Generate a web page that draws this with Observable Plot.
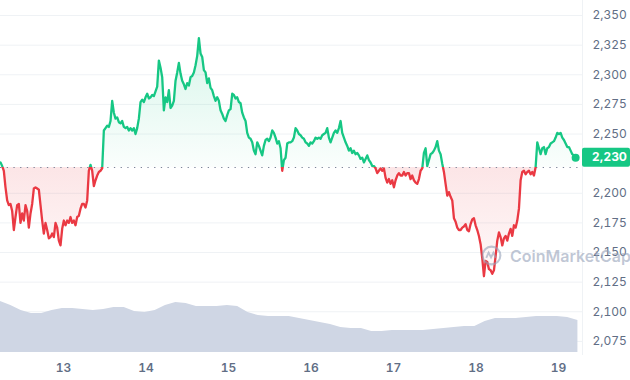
<!DOCTYPE html>
<html><head><meta charset="utf-8">
<script src="https://cdn.jsdelivr.net/npm/d3@7"></script>
<script src="https://cdn.jsdelivr.net/npm/@observablehq/plot@0.6"></script>
<style>
html,body{margin:0;padding:0;background:#fff;}
#chart{position:relative;width:630px;height:380px;overflow:hidden;font-family:Inter,"Noto Sans",sans-serif;}
#chart svg{display:block;}
.layer{position:absolute;left:0;top:0;width:630px;height:380px;}
.clipbox{position:absolute;left:0;width:630px;overflow:hidden;}
.clipbox > svg{position:absolute;left:0;}
#chart [aria-label^="x-axis"] text{font-weight:600;}
.wm{position:absolute;left:481px;top:245px;display:flex;align-items:center;gap:8px;color:rgba(150,162,185,0.6);font-size:16px;font-weight:600;pointer-events:none;white-space:nowrap;}
</style></head>
<body><div id="chart"></div>
<script>
// ---- data ----
const priceStart = "2023-12-12T05:40:00Z";
const priceEnd = "2023-12-19T05:00:00Z";
const prices = [
2226,2223,2219,2205,2194,2190,2191,2185,2169,2180,
2190,2191,2175,2183,2177,2190,2185,2171,2183,2191,
2204,2205,2204,2203,2190,2177,2166,2175,2169,2162,
2163,2166,2163,2175,2171,2160,2156,2170,2177,2173,
2177,2175,2180,2175,2177,2173,2180,2181,2187,2191,
2191,2188,2194,2219,2224,2219,2206,2211,2215,2218,
2219,2221,2253,2255,2257,2256,2261,2278,2268,2263,
2264,2260,2259,2261,2256,2255,2256,2253,2255,2253,
2255,2250,2255,2263,2277,2279,2277,2281,2284,2280,
2281,2283,2282,2286,2290,2312,2306,2298,2270,2281,
2277,2287,2272,2274,2278,2295,2302,2310,2301,2295,
2292,2288,2293,2291,2298,2299,2302,2308,2316,2331,
2318,2315,2304,2302,2293,2297,2289,2287,2282,2278,
2281,2278,2270,2267,2263,2261,2266,2270,2271,2284,
2283,2280,2281,2277,2276,2268,2264,2261,2251,2247,
2246,2243,2236,2233,2243,2240,2236,2232,2240,2245,
2246,2244,2247,2253,2251,2247,2242,2244,2238,2219,
2228,2230,2242,2243,2243,2244,2247,2255,2253,2250,
2249,2247,2246,2243,2242,2240,2243,2242,2244,2247,
2246,2247,2246,2249,2250,2251,2255,2247,2243,2247,
2251,2253,2251,2255,2261,2251,2247,2243,2240,2236,
2238,2234,2236,2233,2234,2232,2229,2230,2226,2229,
2232,2228,2226,2223,2223,2221,2217,2219,2221,2219,
2221,2213,2209,2212,2208,2211,2205,2211,2215,2217,
2215,2215,2218,2215,2217,2217,2212,2215,2211,2209,
2208,2212,2219,2221,2234,2238,2223,2228,2233,2234,
2236,2239,2244,2236,2233,2225,2218,2208,2198,2201,
2197,2194,2179,2176,2171,2169,2169,2171,2172,2174,
2169,2168,2174,2178,2179,2173,2169,2164,2157,2145,
2130,2143,2142,2136,2135,2132,2135,2147,2160,2167,
2163,2156,2162,2164,2160,2166,2170,2164,2173,2171,
2177,2187,2211,2218,2219,2216,2218,2219,2216,2218,
2215,2222,2243,2238,2233,2238,2239,2233,2238,2239,
2242,2243,2244,2247,2251,2250,2251,2247,2245,2242,
2239,2239,2236,2233,2232,2230
];
const baseline = 2221.7;
const volumeStart = "2023-12-12T05:40:00Z";
const volumeStepHours = 3;
const volumes = [
20.4,18.8,16.8,15.6,15.6,16.8,17.6,17.6,17.2,16.8,
17.2,18.0,18.0,16.4,16.0,16.8,18.8,20.0,19.6,18.4,
18.4,18.4,18.8,18.4,16.0,14.8,14.4,14.4,14.4,13.6,
12.8,12.0,11.2,10.0,9.6,9.6,8.4,8.4,8.8,8.8,
8.8,8.8,9.2,9.6,10.0,10.4,10.4,12.4,13.6,13.6,
13.6,14.0,14.4,14.4,14.4,14.0,12.8
];
const yTicks = [2075,2100,2125,2150,2175,2200,2250,2275,2300,2325,2350];
const xTickDays = ["2023-12-13","2023-12-14","2023-12-15","2023-12-16","2023-12-17","2023-12-18","2023-12-19"];
const xDomainStr = ["2023-12-12T05:40:00Z", "2023-12-19T07:00:00Z"];
const yDomain = [2063.1, 2362.7];
const volDomain = [0, 24];
const lastLabel = "2,230";
const watermark = "CoinMarketCap";

// ---- build ----
const UP = "#16c784", DOWN = "#ea3943";
const W = 630, H = 380, mR = 48, mB = 25;
const t0 = new Date(priceStart), t1 = new Date(priceEnd);
const data = prices.map((p, i) => ({t: new Date(+t0 + i * (t1 - t0) / (prices.length - 1)), p}));
const v0 = new Date(volumeStart);
const vol = volumes.map((v, i) => ({t: new Date(+v0 + i * volumeStepHours * 3600e3), v}));
const xDomain = xDomainStr.map(d => new Date(d));
const xTicks = xTickDays.map(d => new Date(d + "T00:00:00Z"));
const common = {width: W, height: H, marginLeft: 0, marginRight: mR, marginTop: 0, marginBottom: mB};
const bare = {
  ...common,
  style: {background: "transparent"},
  x: {type: "utc", domain: xDomain, axis: null},
  y: {domain: yDomain, axis: null}
};

const priceChart = Plot.plot({
  ...common,
  style: {background: "transparent", fontFamily: "Inter, 'Noto Sans', sans-serif", fontSize: "12px", color: "#616e85"},
  x: {type: "utc", domain: xDomain, ticks: xTicks, tickFormat: d3.utcFormat("%-d"), tickSize: 0, tickPadding: 8, label: null},
  y: {domain: yDomain, axis: "right", ticks: yTicks, tickFormat: d3.format(","), tickSize: 0, tickPadding: 10, label: null},
  marks: [
    Plot.ruleY(yTicks, {stroke: "#eff2f5", strokeWidth: 1}),
    Plot.ruleX([xDomain[1]], {stroke: "#eff2f5", strokeWidth: 1}),
    Plot.areaY(data, {x: "t", y1: () => baseline, y2: d => Math.max(d.p, baseline), fill: "url(#upFill)"}),
    Plot.areaY(data, {x: "t", y1: () => baseline, y2: d => Math.min(d.p, baseline), fill: "url(#downFill)"}),
    Plot.ruleY([baseline], {stroke: "#7d8599", strokeWidth: 1.1, strokeDasharray: "1.3,5.4"})
  ]
});

const downChart = Plot.plot({...bare, marks: [
  Plot.lineY(data, {x: "t", y: "p", stroke: DOWN, strokeWidth: 2.3})
]});
const upChart = Plot.plot({...bare, marks: [
  Plot.lineY(data, {x: "t", y: "p", stroke: UP, strokeWidth: 2.3})
]});
const dotChart = Plot.plot({...bare, marks: [
  Plot.dot([data[data.length - 1]], {x: "t", y: "p", r: 4, fill: UP})
]});

const volChart = Plot.plot({
  ...common,
  style: {background: "transparent"},
  x: {type: "utc", domain: xDomain, axis: null},
  y: {domain: volDomain, range: [352, 292], axis: null},
  marks: [Plot.areaY(vol, {x: "t", y: "v", fill: "#cfd6e4"})]
});

// y position helper from the plot's own y scale
const ys = priceChart.scale("y");
const yPx = (ys && ys.apply) ? (v => ys.apply(v)) : d3.scaleLinear(ys.domain, ys.range);
const xs = priceChart.scale("x");
const xRight = (xs && xs.apply) ? xs.apply(xDomain[1]) : W - mR;
const baseY = yPx(baseline);
const topY = yPx(d3.max(prices));
const botY = yPx(d3.min(prices));

const chart = document.getElementById("chart");
function layer(svgEl) {
  const d = document.createElement("div");
  d.className = "layer";
  d.appendChild(svgEl);
  chart.appendChild(d);
  return d;
}
function clipLayer(svgEl, top, height) {
  const d = document.createElement("div");
  d.className = "clipbox";
  d.style.top = top + "px";
  d.style.height = height + "px";
  svgEl.style.top = (-top) + "px";
  d.appendChild(svgEl);
  chart.appendChild(d);
}
layer(priceChart);
clipLayer(downChart, baseY, H - baseY);
clipLayer(upChart, 0, baseY);
layer(volChart);
layer(dotChart);

// gradients
const svg = d3.select(priceChart);
const defs = svg.append("defs");
const gu = defs.append("linearGradient").attr("id", "upFill").attr("gradientUnits", "userSpaceOnUse")
  .attr("x1", 0).attr("x2", 0).attr("y1", topY).attr("y2", baseY);
gu.append("stop").attr("offset", 0).attr("stop-color", UP).attr("stop-opacity", 0.17);
gu.append("stop").attr("offset", 1).attr("stop-color", UP).attr("stop-opacity", 0.02);
const gd = defs.append("linearGradient").attr("id", "downFill").attr("gradientUnits", "userSpaceOnUse")
  .attr("x1", 0).attr("x2", 0).attr("y1", baseY).attr("y2", botY);
gd.append("stop").attr("offset", 0).attr("stop-color", DOWN).attr("stop-opacity", 0.13);
gd.append("stop").attr("offset", 1).attr("stop-color", DOWN).attr("stop-opacity", 0.03);

// last price tag
const lastY = yPx(prices[prices.length - 1]);
const tsvg = d3.select(dotChart);
tsvg.append("rect").attr("x", xRight).attr("y", lastY - 9.5).attr("width", W - xRight).attr("height", 19)
  .attr("rx", 2).attr("fill", UP);
tsvg.append("text").attr("x", xRight + 10).attr("y", lastY).attr("dy", "0.35em")
  .attr("text-anchor", "start").attr("fill", "#fff").attr("font-weight", 700)
  .attr("font-size", 12).attr("font-family", "Inter, 'Noto Sans', sans-serif").text(lastLabel);

// watermark
const wm = document.createElement("div");
wm.className = "wm";
wm.innerHTML = '<svg width="21" height="21" viewBox="0 0 22 22"><circle cx="11" cy="11" r="9.3" fill="none" stroke="rgba(150,162,185,0.6)" stroke-width="2.2"/><path d="M5.5 13.5 L8 8 L10.5 13 L13 8 L15.5 13.5" fill="none" stroke="rgba(150,162,185,0.6)" stroke-width="2"/></svg><span>' + watermark + '</span>';
chart.appendChild(wm);
</script>
</body></html>
